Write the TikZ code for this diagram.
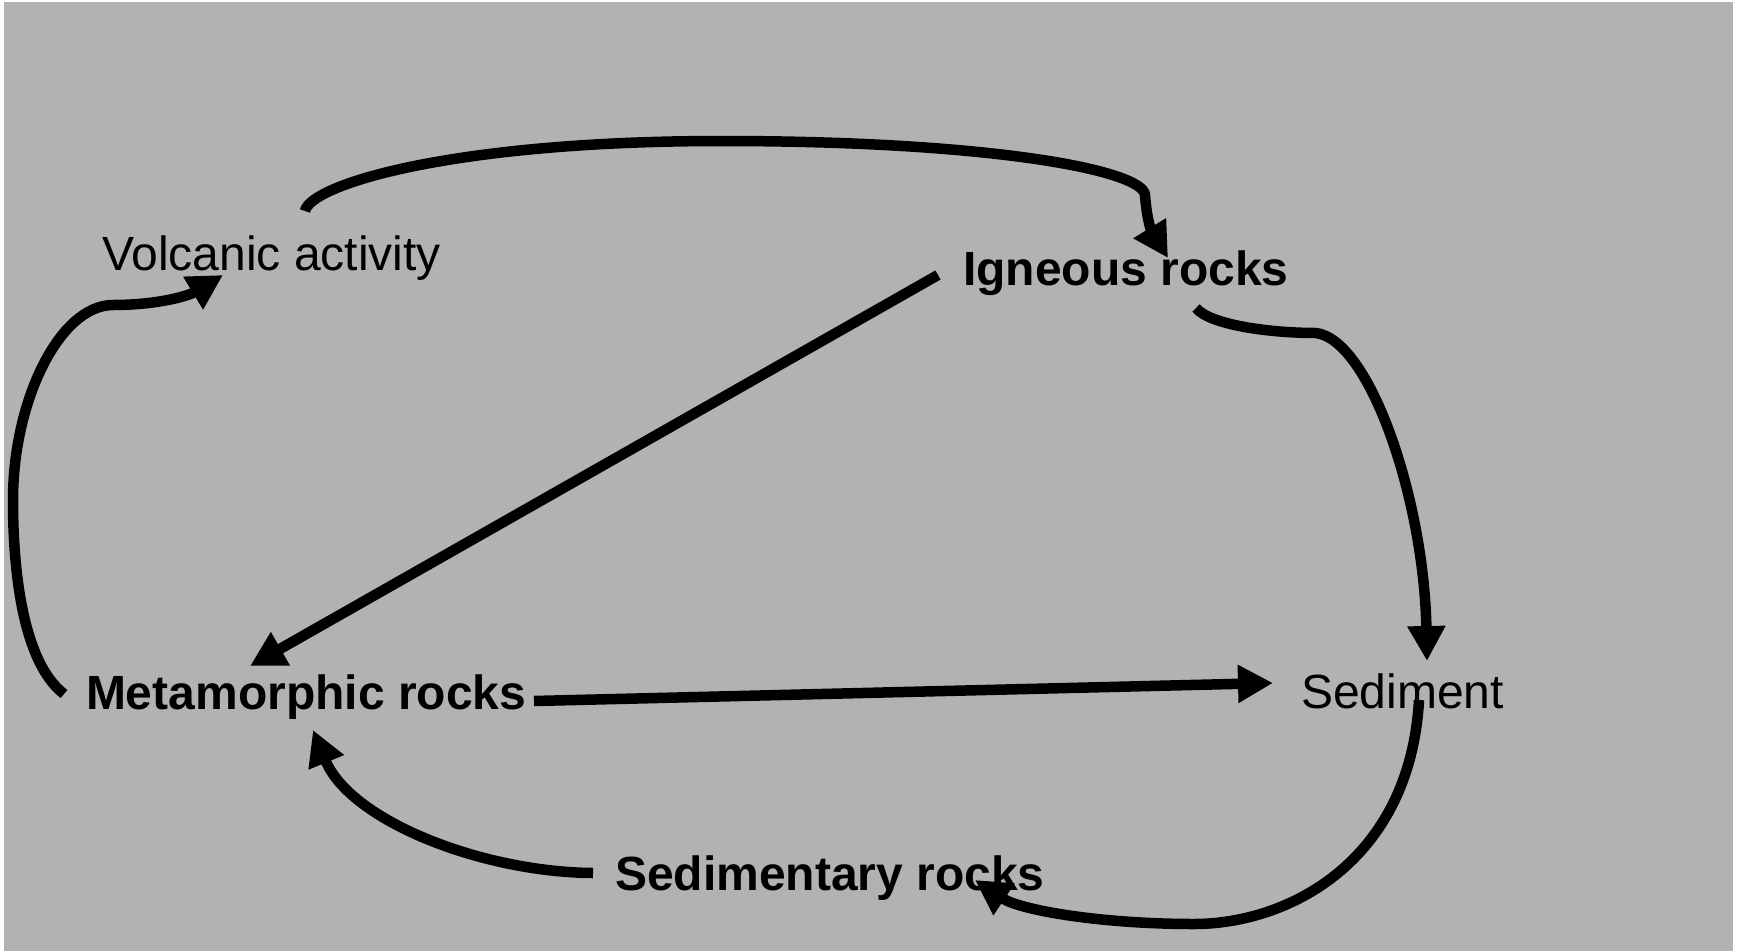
\documentclass[tikz,border=0pt]{standalone}
\usepackage{fontspec}
\setmainfont{Liberation Sans}
\usetikzlibrary{arrows.meta}
\definecolor{bgc}{RGB}{178,178,178}
\tikzset{
  lbl/.style={anchor=base west, inner sep=0pt, outer sep=0pt, font=\fontsize{48}{57}\selectfont},
  blbl/.style={lbl, font=\fontsize{48}{57}\selectfont\bfseries},
  conn/.style={line width=10.5pt, -{Triangle[length=35pt,width=36pt]}}
}
\begin{document}
\begin{tikzpicture}[x=1pt,y=-1pt]
\useasboundingbox (0,0) rectangle (1741,951);
\fill[white] (0,0) rectangle (1741,951);
\fill[bgc] (4,2) rectangle (1733,951);

\node[lbl]  (vol) at (102,270) {Volcanic activity};
\node[blbl] (ign) at (963,285) {Igneous rocks};
\node[blbl] (met) at (86,709)  {Metamorphic rocks};
\node[lbl]  (sed) at (1301,708) {Sediment};
\node[blbl] (sry) at (615,890) {Sedimentary rocks};

% Volcanic -> Igneous
\draw[conn] ([shift={(203,-59)}]vol.base west)
  .. controls (310,185) and (450,141) .. (722,141)
  .. controls (990,141) and (1143,170) .. (1145,195)
  .. controls (1147,222) and (1152,232) .. ([shift={(205,-27)}]ign.base west);
% Igneous -> Sediment
\draw[conn] ([shift={(233,23)}]ign.base west)
  .. controls (1210,325) and (1270,333) .. (1316,333)
  .. controls (1370,340) and (1424,500) .. ([shift={(126,-47)}]sed.base west);
% Igneous -> Metamorphic
\draw[conn] ([shift={(-25,-10)}]ign.base west) -- ([shift={(164,-43)}]met.base west);
% Metamorphic -> Sediment
\draw[conn] ([shift={(448,-8)}]met.base west) -- ([shift={(-28,-25)}]sed.base west);
% Sediment -> Sedimentary rocks
\draw[conn] ([shift={(118,-8)}]sed.base west)
  .. controls (1410,860) and (1290,924) .. (1194,924)
  .. controls (1100,924) and (1020,910) .. ([shift={(360,-10)}]sry.base west);
% Sedimentary rocks -> Metamorphic
\draw[conn] ([shift={(-22,-17)}]sry.base west)
  .. controls (480,872) and (350,820) .. ([shift={(227,21)}]met.base west);
% Metamorphic -> Volcanic
\draw[conn] ([shift={(-22,-15)}]met.base west)
  .. controls (20,660) and (13,560) .. (13,500)
  .. controls (13,400) and (60,305) .. (113,305)
  .. controls (160,305) and (190,295) .. ([shift={(121,5)}]vol.base west);
\end{tikzpicture}
\end{document}
